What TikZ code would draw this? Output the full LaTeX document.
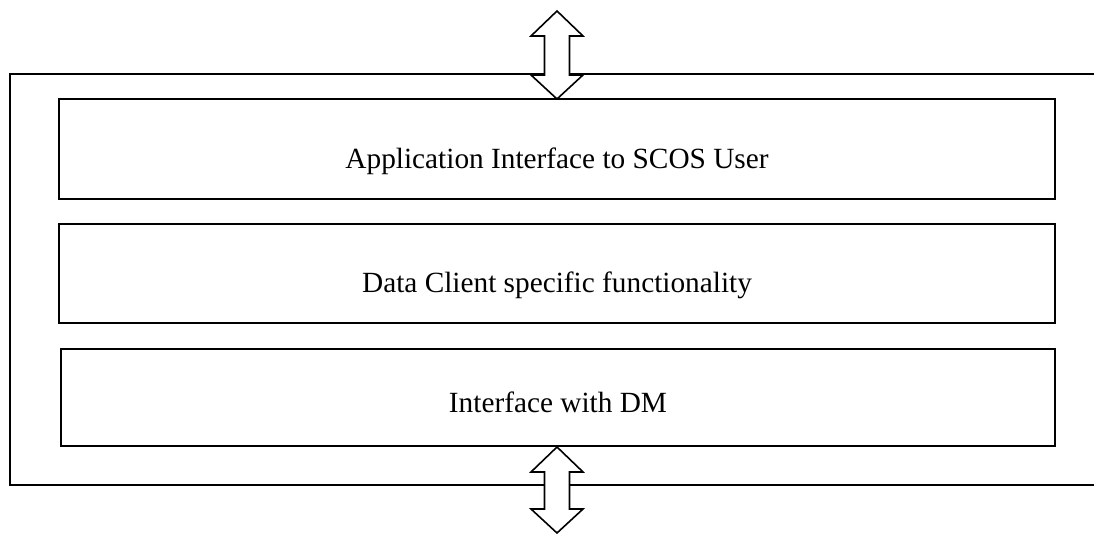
\documentclass[tikz,border=0pt]{standalone}
\usepackage{fontspec}
\setmainfont{Liberation Serif}

% double headed arrow: centre x, top tip, bottom tip
\newcommand{\dualarrow}[3]{%
  \draw[arrowshape] (#1,#2) -- (#1+26,#2+25) -- (#1+12.5,#2+25)
    -- (#1+12.5,#3-24) -- (#1+26,#3-24) -- (#1,#3) -- (#1-26,#3-24)
    -- (#1-12.5,#3-24) -- (#1-12.5,#2+25) -- (#1-26,#2+25) -- cycle;}

\tikzset{
  layer/.style={draw, line width=2pt, minimum width=996pt, minimum height=99pt,
    font=\fontsize{29.3}{32}\selectfont, inner sep=0pt,
    text height=39pt, text depth=0pt},
  arrowshape/.style={draw, fill=white, line width=1.6pt, line join=miter},
}

\begin{document}
\begin{tikzpicture}[x=1pt, y=-1pt]
        \useasboundingbox (0,0) rectangle (1094,534);

        % outer frame, open on the right
        \coordinate (ftr) at (1094,74);
        \coordinate (ftl) at (10,74);
        \coordinate (fbl) at (10,485);
        \coordinate (fbr) at (1094,485);
        \draw[line width=2pt] (ftr) -- (ftl) -- (fbl) -- (fbr);

        \begin{scope}[every node/.style={layer}]
          \node (app)  at (557,149)   [minimum height=100pt] {Application Interface to SCOS User};
          \node (data) at (557,273.5) {Data Client specific functionality};
          \node (dm)   at (558,397.5) [minimum width=994pt, minimum height=97pt,
                                       text height=29pt] {Interface with DM};
        \end{scope}

        \dualarrow{557}{11}{99}
        \dualarrow{557}{447}{533}

      \end{tikzpicture}
\end{document}
